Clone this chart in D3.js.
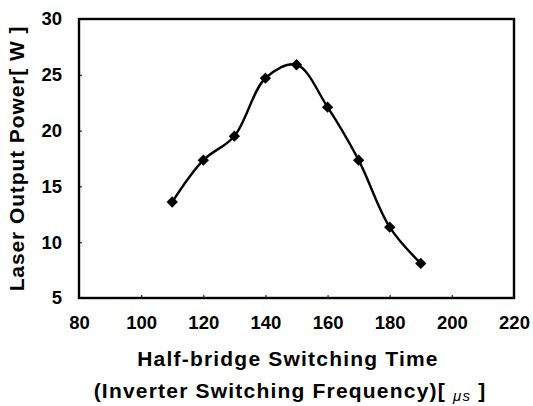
<!DOCTYPE html>
<html>
<head>
<meta charset="utf-8">
<script src="https://cdn.jsdelivr.net/npm/d3@7"></script>
<style>
body{margin:0;background:#fff;}
text{font-family:"Liberation Sans",Arial,sans-serif;font-weight:bold;fill:#000;}
</style>
</head>
<body>
<div class="chart"></div>
<script>
const switchTime = [110,120,130,140,150,160,170,180,190];
const power = [13.6,17.35,19.5,24.7,25.9,22.1,17.35,11.35,8.1];
const xTicks = [80,100,120,140,160,180,200,220];
const yTicks = [5,10,15,20,25,30];

const w = 533, h = 406;
const m = {left:79, top:19, right:19, bottom:108};

const svg = d3.select('.chart').append('svg')
    .attr('width', w)
    .attr('height', h);

const x = d3.scaleLinear().domain([80,220]).range([m.left, w-m.right]);
const y = d3.scaleLinear().domain([5,30]).range([h-m.bottom, m.top]);

// frame
svg.append('rect')
    .attr('x', x(80)).attr('y', y(30))
    .attr('width', x(220)-x(80)).attr('height', y(5)-y(30))
    .attr('fill','none').attr('stroke','#000').attr('stroke-width',2.4);

const xAxis = svg.append('g')
    .attr('transform', `translate(0,${y(5)})`)
    .call(d3.axisBottom(x).tickValues(xTicks).tickSize(-3).tickPadding(18));
const yAxis = svg.append('g')
    .attr('transform', `translate(${x(80)},0)`)
    .call(d3.axisLeft(y).tickValues(yTicks).tickSize(-3).tickPadding(17));
[xAxis,yAxis].forEach(g=>{
  g.select('.domain').remove();
  g.selectAll('line').attr('stroke','#000').attr('stroke-width',1);
  g.selectAll('text').attr('font-size',18.5).attr('font-family','"Liberation Sans",Arial,sans-serif').attr('font-weight','bold');
});

const data = switchTime.map((d,i)=>({t:d, p:power[i]}));

svg.append('path')
    .datum(data)
    .attr('d', d3.line().x(d=>x(d.t)).y(d=>y(d.p)).curve(d3.curveCatmullRom.alpha(0.5)))
    .attr('fill','none')
    .attr('stroke','#000')
    .attr('stroke-width',2.4);

svg.selectAll('path.pt')
    .data(data)
    .enter()
    .append('path')
    .attr('class','pt')
    .attr('d', d3.symbol(d3.symbolSquare, 64)())
    .attr('transform', d=>`translate(${x(d.t)},${y(d.p)}) rotate(45)`)
    .attr('fill','#000');

// axis titles
svg.append('text')
    .attr('x', 288).attr('y', 366)
    .attr('text-anchor','middle')
    .attr('font-size',21)
    .attr('letter-spacing',1.2)
    .text('Half-bridge Switching Time');
const t2 = svg.append('text')
    .attr('x', 290).attr('y', 398)
    .attr('text-anchor','middle')
    .attr('font-size',21)
    .attr('letter-spacing',1.2);
t2.append('tspan').text('(Inverter Switching Frequency)[ ');
t2.append('tspan').attr('font-style','italic').attr('font-size',15).attr('font-weight','normal').attr('dy',3).text('μs');
t2.append('tspan').attr('dy',-3).text('  ]');

svg.append('text')
    .attr('transform', `translate(24,${(y(5)+y(30))/2}) rotate(-90)`)
    .attr('text-anchor','middle')
    .attr('font-size',21)
    .attr('letter-spacing',0.9)
    .text('Laser Output Power[ W ]');
</script>
</body>
</html>
